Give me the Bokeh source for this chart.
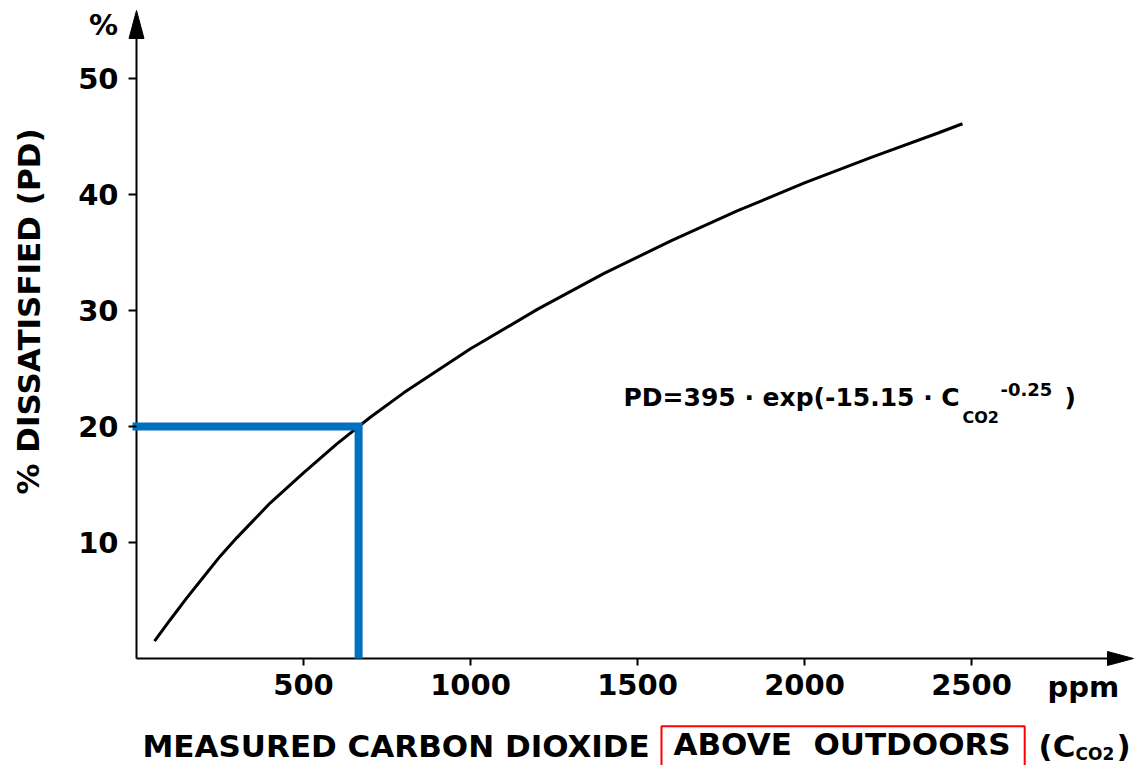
from bokeh.plotting import figure
from bokeh.models import Label
from bokeh.embed import file_html
from bokeh.resources import INLINE

# ---- data ----
co2_ppm = [54, 100, 150, 200, 250, 300, 400, 500, 600, 700, 800, 1000, 1200,
           1400, 1600, 1800, 2000, 2200, 2400, 2473]
pd_percent = [1.5, 3.3, 5.2, 7.0, 8.8, 10.4, 13.4, 16.0, 18.5, 20.8, 22.9, 26.7,
              30.1, 33.2, 36.0, 38.6, 41.0, 43.2, 45.3, 46.1]
x_ticks = [500, 1000, 1500, 2000, 2500]
y_ticks = [10, 20, 30, 40, 50]
marker_co2 = 665
marker_pd = 20

# ---- layout constants (pixels of the picture) ----
X0, SX = 136.0, 0.334      # px of x=0, px per ppm
Y0, SY = 658.0, 11.6       # px of y=0, px per %


def dx(px):
    return (px - X0) / SX


def dy(py):
    return (Y0 - py) / SY


W, H = 1144, 765

p = figure(width=W, height=H, output_backend="svg", toolbar_location=None,
           x_range=(dx(0), dx(W)), y_range=(dy(H), dy(0)),
           min_border_left=0, min_border_right=0,
           min_border_top=0, min_border_bottom=0)
p.outline_line_color = None
p.grid.visible = False
p.background_fill_color = "white"
p.border_fill_color = "white"

FONT = "DejaVu Sans"

for ax, ticks in ((p.xaxis, x_ticks), (p.yaxis, y_ticks)):
    ax.ticker = ticks
    ax.fixed_location = 0
    ax.axis_line_color = None
    ax.minor_tick_line_color = None
    ax.major_tick_in = 0
    ax.major_tick_line_color = "black"
    ax.major_tick_line_width = 2
    ax.major_label_text_font = FONT
    ax.major_label_text_font_style = "bold"
    ax.major_label_text_font_size = "29px"
    ax.major_label_text_color = "black"
p.xaxis.major_tick_out = 7
p.xaxis.major_label_standoff = 8
p.yaxis.major_tick_out = 8
p.yaxis.major_label_standoff = 10

# axis lines with arrow heads
y_tip, y_base, y_half = dy(10), dy(38), 7.5 / SX
x_tip, x_base, x_half = dx(1133), dx(1107), 7.0 / SY
p.line(x=[0, 0], y=[0, y_base], line_color="black", line_width=2)
p.line(x=[0, x_base], y=[0, 0], line_color="black", line_width=2)
p.patches(xs=[[-y_half, 0, y_half], [x_base, x_tip, x_base]],
          ys=[[y_base, y_tip, y_base], [-x_half, 0, x_half]],
          fill_color="black", line_color="black", line_width=1)

# the curve
p.line(x=co2_ppm, y=pd_percent, line_color="black", line_width=3)

# blue guide lines
p.line(x=[dx(132), marker_co2, marker_co2], y=[marker_pd, marker_pd, 0],
       line_color="#0070C0", line_width=8, line_join="miter")


def lab(text, px, py, size, align="left", baseline="alphabetic", angle=0, **kw):
    if baseline == "alphabetic":
        py = py - 0.36 * size          # renderer draws slightly below the baseline
    l = Label(x=dx(px), y=dy(py), text=text, text_font=FONT,
              text_font_style="bold", text_font_size=f"{size}px",
              text_align=align, text_baseline=baseline, angle=angle,
              text_color="black", **kw)
    p.add_layout(l)
    return l


# y axis title and unit
lab("% DISSATISFIED (PD)", 28, 311, 31, align="center", baseline="middle",
    angle=1.5707963)
lab("%", 103, 24, 29, align="center", baseline="middle")
lab("ppm", 1047, 697, 29)

# formula
lab("PD=395 · exp(-15.15 · C", 623, 406, 25)
lab("CO2", 962, 423, 16)
lab("-0.25", 1000, 395, 18)
lab(")", 1064, 406, 25)

# x axis title
lab("MEASURED CARBON DIOXIDE", 142, 757, 31)
lab("ABOVE \u00a0OUTDOORS", 661, 765, 31, border_line_color="red",
    border_line_width=2, padding=dict(left=12, right=14, top=0, bottom=20))
lab("(C", 1038, 757, 31)
lab("CO2", 1075, 760, 17)
lab(")", 1116, 757, 31)

open("out.html", "w").write(file_html(p, INLINE))
